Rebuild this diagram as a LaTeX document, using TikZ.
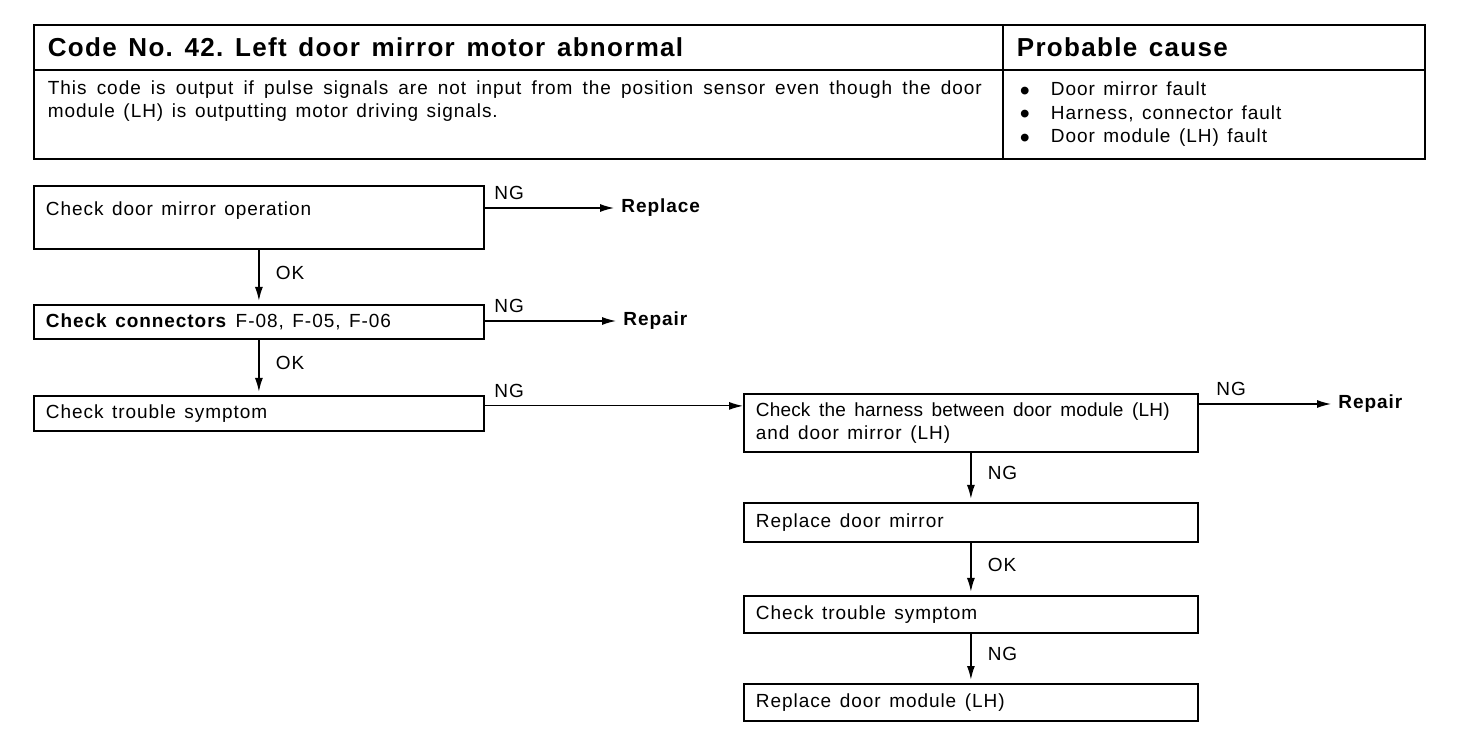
\documentclass[tikz,border=0pt]{standalone}
\usepackage{fontspec}
\setmainfont{Liberation Sans}[LetterSpace=5]
\usetikzlibrary{arrows.meta,positioning}
\frenchspacing

\newcommand{\wsp}{\spaceskip=.45em plus .5em\relax}
\newcommand{\bul}{\smash{\raisebox{-2.2pt}{\scalebox{1.5}{\textbullet}}}}

\begin{document}
\begin{tikzpicture}[x=0.5pt,y=-0.5pt,
  font=\fontsize{9.5}{11.5}\selectfont,>={Latex[length=7pt,width=4pt]},
  execute at begin node=\wsp,
  cell/.style={draw,line width=0.9pt,anchor=north west,inner xsep=7pt,inner ysep=0pt,align=left},
  stepbox/.style={draw,line width=0.9pt,anchor=north west,inner xsep=6pt,inner ysep=0pt,align=left},
  lbox/.style={stepbox,text width=213pt},
  rbox/.style={stepbox,text width=215pt},
  act/.style={font=\fontsize{9.5}{11.5}\selectfont\bfseries,anchor=west,inner sep=2pt},
  ar/.style={->,line width=0.6pt,shorten >=1.5pt},
  dn/.style={ar,line width=0.9pt},
  ng/.style={anchor=south west,inner sep=2pt,xshift=2.5pt,yshift=2pt},
  ok/.style={anchor=west,inner sep=2pt,xshift=6pt,yshift=2pt}
]
\useasboundingbox (0,0) rectangle (1472,742);

% header table
\node[cell,minimum height=22.5pt,text width=470.5pt,font=\fontsize{13}{15}\selectfont\bfseries] (title) at (33,24) {Code No. 42. Left door mirror motor abnormal};
\node[cell,minimum height=22.5pt,text width=197pt,font=\fontsize{13}{15}\selectfont\bfseries] (causehd) at (1002,24) {Probable cause};
\node[cell,minimum height=44.5pt,text width=470.5pt] (desc) at (33,69) {\makebox[467pt][s]{\wsp This code is output if pulse signals are not input from the position sensor even though the door}\\ module (LH) is outputting motor driving signals.\\ \strut};
\node[cell,minimum height=44.5pt,text width=194pt,inner xsep=8.5pt,font=\fontsize{9.5}{11.75}\selectfont] (cause) at (1002,69) {\bul\hspace{10.5pt}Door mirror fault\\ \bul\hspace{10.5pt}Harness, connector fault\\ \bul\hspace{10.5pt}Door module (LH) fault};

% left column
\node[lbox,text height=14.75pt,text depth=16.75pt] (b1) at (33,185) {Check door mirror operation};
\node[lbox,minimum height=17pt] (b2) at (33,304) {\textbf{Check connectors} F-08, F-05, F-06};
\node[lbox,minimum height=17.5pt] (b3) at (33,395) {Check trouble symptom};

% right column
\node[rbox,minimum height=29pt] (b4) at (743,393) {{\addfontfeature{LetterSpace=1}Check the harness between door module (LH)}\\ and door mirror (LH)};
\node[rbox,minimum height=19.5pt] (b5) at (743,502) {Replace door mirror};
\node[rbox,minimum height=18.5pt] (b6) at (743,595) {Check trouble symptom};
\node[rbox,minimum height=18.5pt] (b7) at (743,683) {Replace door module (LH)};

% outcomes
\node[act] (replace) at (617,208) {Replace};
\node[act] (repair1) at (619,321) {Repair};
\node[act] (repair2) at (1334,404) {Repair};

% arrows
\draw[ar] (b1.east |- replace) -- node[ng,pos=0]{NG} (replace.west);
\draw[ar] (b2.east |- repair1) -- node[ng,pos=0]{NG} (repair1.west);
\draw[ar] (b4.east |- repair2) -- node[ng,pos=0,xshift=4pt]{NG} (repair2.west);
\draw[ar,shorten >=0pt] ([yshift=3.75pt]b3.east) -- node[ng,pos=0]{NG} ([yshift=3.75pt]b3.east -| b4.west);
\draw[dn] (b1.south) -- node[ok]{OK} (b2.north);
\draw[dn] (b2.south) -- node[ok]{OK} (b3.north);
\draw[dn] (b4.south) -- node[ok]{NG} (b5.north);
\draw[dn] (b5.south) -- node[ok]{OK} (b6.north);
\draw[dn] (b6.south) -- node[ok]{NG} (b7.north);
\end{tikzpicture}
\end{document}
